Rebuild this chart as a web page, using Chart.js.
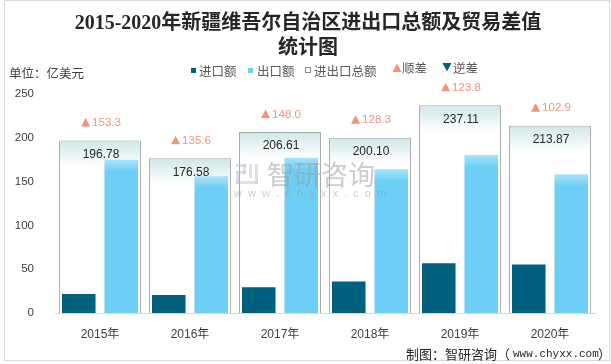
<!DOCTYPE html>
<html>
<head>
<meta charset="utf-8">
<script src="https://cdn.jsdelivr.net/npm/chart.js@4/dist/chart.umd.min.js"></script>
<style>
  body { margin: 0; background: #fff; }
  #box { width: 611px; height: 364px; }
</style>
</head>
<body>
<div id="box"><canvas id="chartTrade" width="611" height="364"></canvas></div>
<script>
// 年份
const years = ['2015年', '2016年', '2017年', '2018年', '2019年', '2020年'];
// 进出口总额 (亿美元)
const totalValues = [196.78, 176.58, 206.61, 200.10, 237.11, 213.87];
// 出口额
const exportValues = [175.0, 156.1, 177.3, 164.2, 180.5, 158.4];
// 进口额
const importValues = [21.7, 20.5, 29.3, 35.9, 56.7, 55.5];
// 贸易差值 (顺差)
const surplusValues = [153.3, 135.6, 148.0, 128.3, 123.8, 102.9];
const yTicks = [0, 50, 100, 150, 200, 250];

const cjk = '"Noto Sans CJK SC", "Liberation Sans", sans-serif';

// 柱子顶部渐变
const topGradient = (from, to, len) => (c) => {
  const chart = c.chart;
  if (!chart.chartArea || c.raw === undefined) return to;
  const top = chart.scales.y.getPixelForValue(c.raw);
  const g = chart.ctx.createLinearGradient(0, top, 0, top + len);
  g.addColorStop(0, from);
  g.addColorStop(1, to);
  return g;
};

const trianglePath = (c, x, y, up) => {
  c.beginPath();
  if (up) {
    c.moveTo(x, y - 4.5); c.lineTo(x + 4.5, y + 4); c.lineTo(x - 4.5, y + 4);
  } else {
    c.moveTo(x - 4.5, y - 4); c.lineTo(x + 4.5, y - 4); c.lineTo(x, y + 4.5);
  }
  c.closePath();
  c.fill();
};

// 标题、图例、数值标签、水印
const decorations = {
  id: 'decorations',
  afterDatasetsDraw(chart) {
    const c = chart.ctx;
    c.save();
    const boxes = chart.getDatasetMeta(0).data;
    boxes.forEach((bar, i) => {
      c.textAlign = 'center';
      c.textBaseline = 'middle';
      c.fillStyle = '#262626';
      c.font = '12px "Liberation Sans", sans-serif';
      c.fillText(totalValues[i].toFixed(2), bar.x + 1, bar.y + 14);
      // 顺差
      c.font = '11.5px "Liberation Sans", sans-serif';
      const txt = surplusValues[i].toFixed(1);
      const w = c.measureText(txt).width;
      const start = bar.x + 1 - (w + 11) / 2;
      c.fillStyle = '#f19478';
      trianglePath(c, start + 4.5, bar.y - 18, true);
      c.textAlign = 'left';
      c.fillStyle = '#f4937c';
      c.fillText(txt, start + 11, bar.y - 17.5);
    });

    // 水印
    c.globalAlpha = 0.5;
    c.fillStyle = '#b9c3d9';
    c.fillRect(236, 164, 10, 3);
    c.fillRect(243, 164, 3, 10);
    c.fillRect(236, 171, 10, 3);
    c.fillRect(236, 171, 3, 13);
    c.fillRect(236, 181, 22, 3);
    c.fillRect(249, 164, 3, 14);
    c.fillRect(255, 164, 3, 20);
    c.fillStyle = '#9a9a9a';
    c.font = '27px ' + cjk;
    c.textAlign = 'left';
    c.textBaseline = 'middle';
    c.fillText('智研咨询', 267, 175);
    c.font = '11px "Liberation Sans", sans-serif';
    c.fillText('w  w  w  .  c  h  y  x  x  .  c  o  m', 234, 194);
    c.restore();
  },
  afterDraw(chart) {
    const c = chart.ctx;
    c.save();
    // 外框
    c.strokeStyle = '#d9d9d9';
    c.lineWidth = 1;
    c.strokeRect(4.5, 0.5, 605, 360);

    // 标题
    c.fillStyle = '#262626';
    c.textAlign = 'center';
    c.textBaseline = 'middle';
    c.font = 'bold 20px "Liberation Serif", ' + cjk;
    c.fillText('2015-2020年新疆维吾尔自治区进出口总额及贸易差值', 308, 24);
    c.fillText('统计图', 308, 49);

    // 单位
    c.fillStyle = '#404040';
    c.textAlign = 'left';
    c.font = '12.5px ' + cjk;
    c.fillText('单位：亿美元', 9, 73);

    // 图例
    c.font = '12.5px ' + cjk;
    c.fillStyle = '#00617f';
    c.fillRect(191, 68, 5, 5);
    c.fillStyle = '#6dcff6';
    c.fillRect(248, 68, 5, 5);
    c.strokeStyle = '#8c8c8c';
    c.strokeRect(305.5, 67.5, 5, 5);
    c.fillStyle = '#595959';
    c.fillText('进口额', 199, 71);
    c.fillText('出口额', 257, 71);
    c.fillText('进出口总额', 314, 71);
    c.fillStyle = '#f19478';
    trianglePath(c, 397, 68, true);
    c.fillStyle = '#00617f';
    trianglePath(c, 447, 67, false);
    c.fillStyle = '#595959';
    c.fillText('顺差', 402, 68);
    c.fillText('逆差', 453, 68);

    // 来源
    c.fillStyle = '#262626';
    c.font = '13px ' + cjk;
    c.fillText('制图：智研咨询（', 406, 354);
    c.font = '11px "Liberation Mono", monospace';
    c.fillText('www.chyxx.com', 513, 354);
    c.font = '13px ' + cjk;
    c.fillText('）', 598, 354);
    c.restore();
  }
};

const ctx = document.getElementById('chartTrade');
const chartTrade = new Chart(ctx, {
  type: 'bar',
  data: {
    labels: years,
    datasets: [{
      label: '进出口总额',
      data: totalValues,
      grouped: false,
      backgroundColor: topGradient('#cfe7e8', '#ffffff', 26),
      borderColor: '#a6a6a6',
      borderWidth: 1,
      barPercentage: 0.91,
      categoryPercentage: 1,
      order: 3
    }, {
      label: '进口额',
      data: importValues,
      backgroundColor: '#00617f',
      barPercentage: 0.79,
      categoryPercentage: 0.944,
      order: 1
    }, {
      label: '出口额',
      data: exportValues,
      backgroundColor: topGradient('#a9e3f9', '#6dcff6', 12),
      barPercentage: 0.79,
      categoryPercentage: 0.944,
      order: 1
    }]
  },
  options: {
    responsive: false,
    animation: false,
    devicePixelRatio: 1,
    layout: {
      padding: { left: 0, right: 16, top: 94, bottom: 0 }
    },
    scales: {
      x: {
        grid: { display: false },
        border: { color: '#d9d9d9' },
        ticks: {
          color: '#404040',
          padding: 6,
          font: { size: 12, family: '"Liberation Sans", "Noto Sans CJK SC", sans-serif' }
        },
        afterFit: (scale) => { scale.height = 51; }
      },
      y: {
        min: 0,
        max: 250,
        afterBuildTicks: (scale) => { scale.ticks = yTicks.map(v => ({ value: v })); },
        grid: { display: false },
        border: { display: false },
        ticks: {
          color: '#404040',
          padding: 13,
          font: { size: 11.5, family: '"Liberation Sans", sans-serif' }
        },
        afterFit: (scale) => { scale.width = 55; }
      }
    },
    plugins: {
      legend: { display: false },
      title: { display: false },
      tooltip: { enabled: false }
    }
  },
  plugins: [decorations]
});
</script>
</body>
</html>
